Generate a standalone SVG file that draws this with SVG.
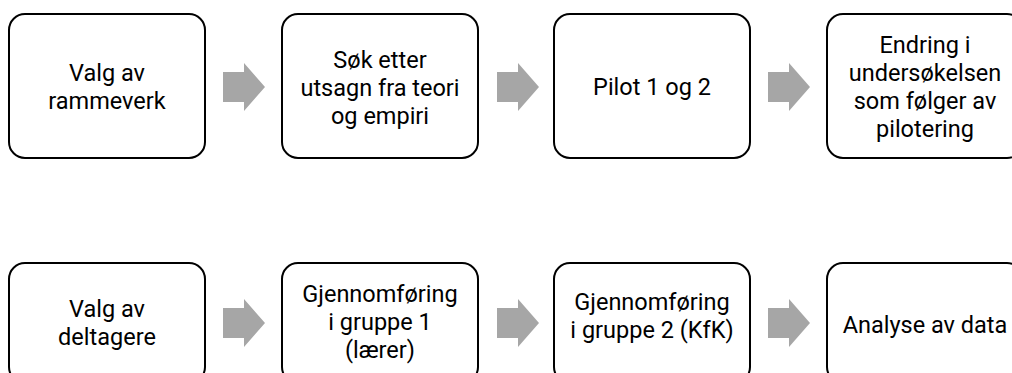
<svg xmlns="http://www.w3.org/2000/svg" width="1012" height="373" viewBox="0 0 1012 373">
<defs>
<style>
.box{fill:#fff;stroke:#000;stroke-width:2}
.lbl{font-family:Roboto,"Liberation Sans",sans-serif;font-size:23.5px;fill:#000;text-anchor:middle}
.arr{fill:#a6a6a6}
</style>
<path id="arrow" d="M0,-15 H21 V-24 L42,0 L21,24 V15 H0 Z"/>
</defs>
<rect width="1012" height="373" fill="#fff"/>
<g id="connectors">
<use href="#arrow" class="arr" x="223" y="87"/>
<use href="#arrow" class="arr" x="497" y="87"/>
<use href="#arrow" class="arr" x="768" y="87"/>
<use href="#arrow" class="arr" x="223" y="323"/>
<use href="#arrow" class="arr" x="497" y="323"/>
<use href="#arrow" class="arr" x="768" y="323"/>
</g>
<g id="n1">
<rect class="box" x="9" y="14" width="196" height="144" rx="16"/>
<text class="lbl" x="107" y="81">Valg av</text>
<text class="lbl" x="107" y="109">rammeverk</text>
</g>
<g id="n2">
<rect class="box" x="282" y="14" width="196" height="144" rx="16"/>
<text class="lbl" x="380" y="68">Søk etter</text>
<text class="lbl" x="380" y="96">utsagn fra teori</text>
<text class="lbl" x="380" y="124">og empiri</text>
</g>
<g id="n3">
<rect class="box" x="554" y="14" width="196" height="144" rx="16"/>
<text class="lbl" x="652" y="95">Pilot 1 og 2</text>
</g>
<g id="n4">
<rect class="box" x="827" y="14" width="196" height="144" rx="16"/>
<text class="lbl" x="925" y="53">Endring i</text>
<text class="lbl" x="925" y="81">undersøkelsen</text>
<text class="lbl" x="925" y="109">som følger av</text>
<text class="lbl" x="925" y="137">pilotering</text>
</g>
<g id="n5">
<rect class="box" x="9" y="263" width="196" height="120" rx="16"/>
<text class="lbl" x="107" y="317">Valg av</text>
<text class="lbl" x="107" y="345">deltagere</text>
</g>
<g id="n6">
<rect class="box" x="282" y="263" width="196" height="120" rx="16"/>
<text class="lbl" x="380" y="302">Gjennomføring</text>
<text class="lbl" x="380" y="330">i gruppe 1</text>
<text class="lbl" x="380" y="358">(lærer)</text>
</g>
<g id="n7">
<rect class="box" x="554" y="263" width="196" height="120" rx="16"/>
<text class="lbl" x="652" y="310">Gjennomføring</text>
<text class="lbl" x="652" y="338">i gruppe 2 (KfK)</text>
</g>
<g id="n8">
<rect class="box" x="827" y="263" width="196" height="120" rx="16"/>
<text class="lbl" x="925" y="333">Analyse av data</text>
</g>
</svg>
